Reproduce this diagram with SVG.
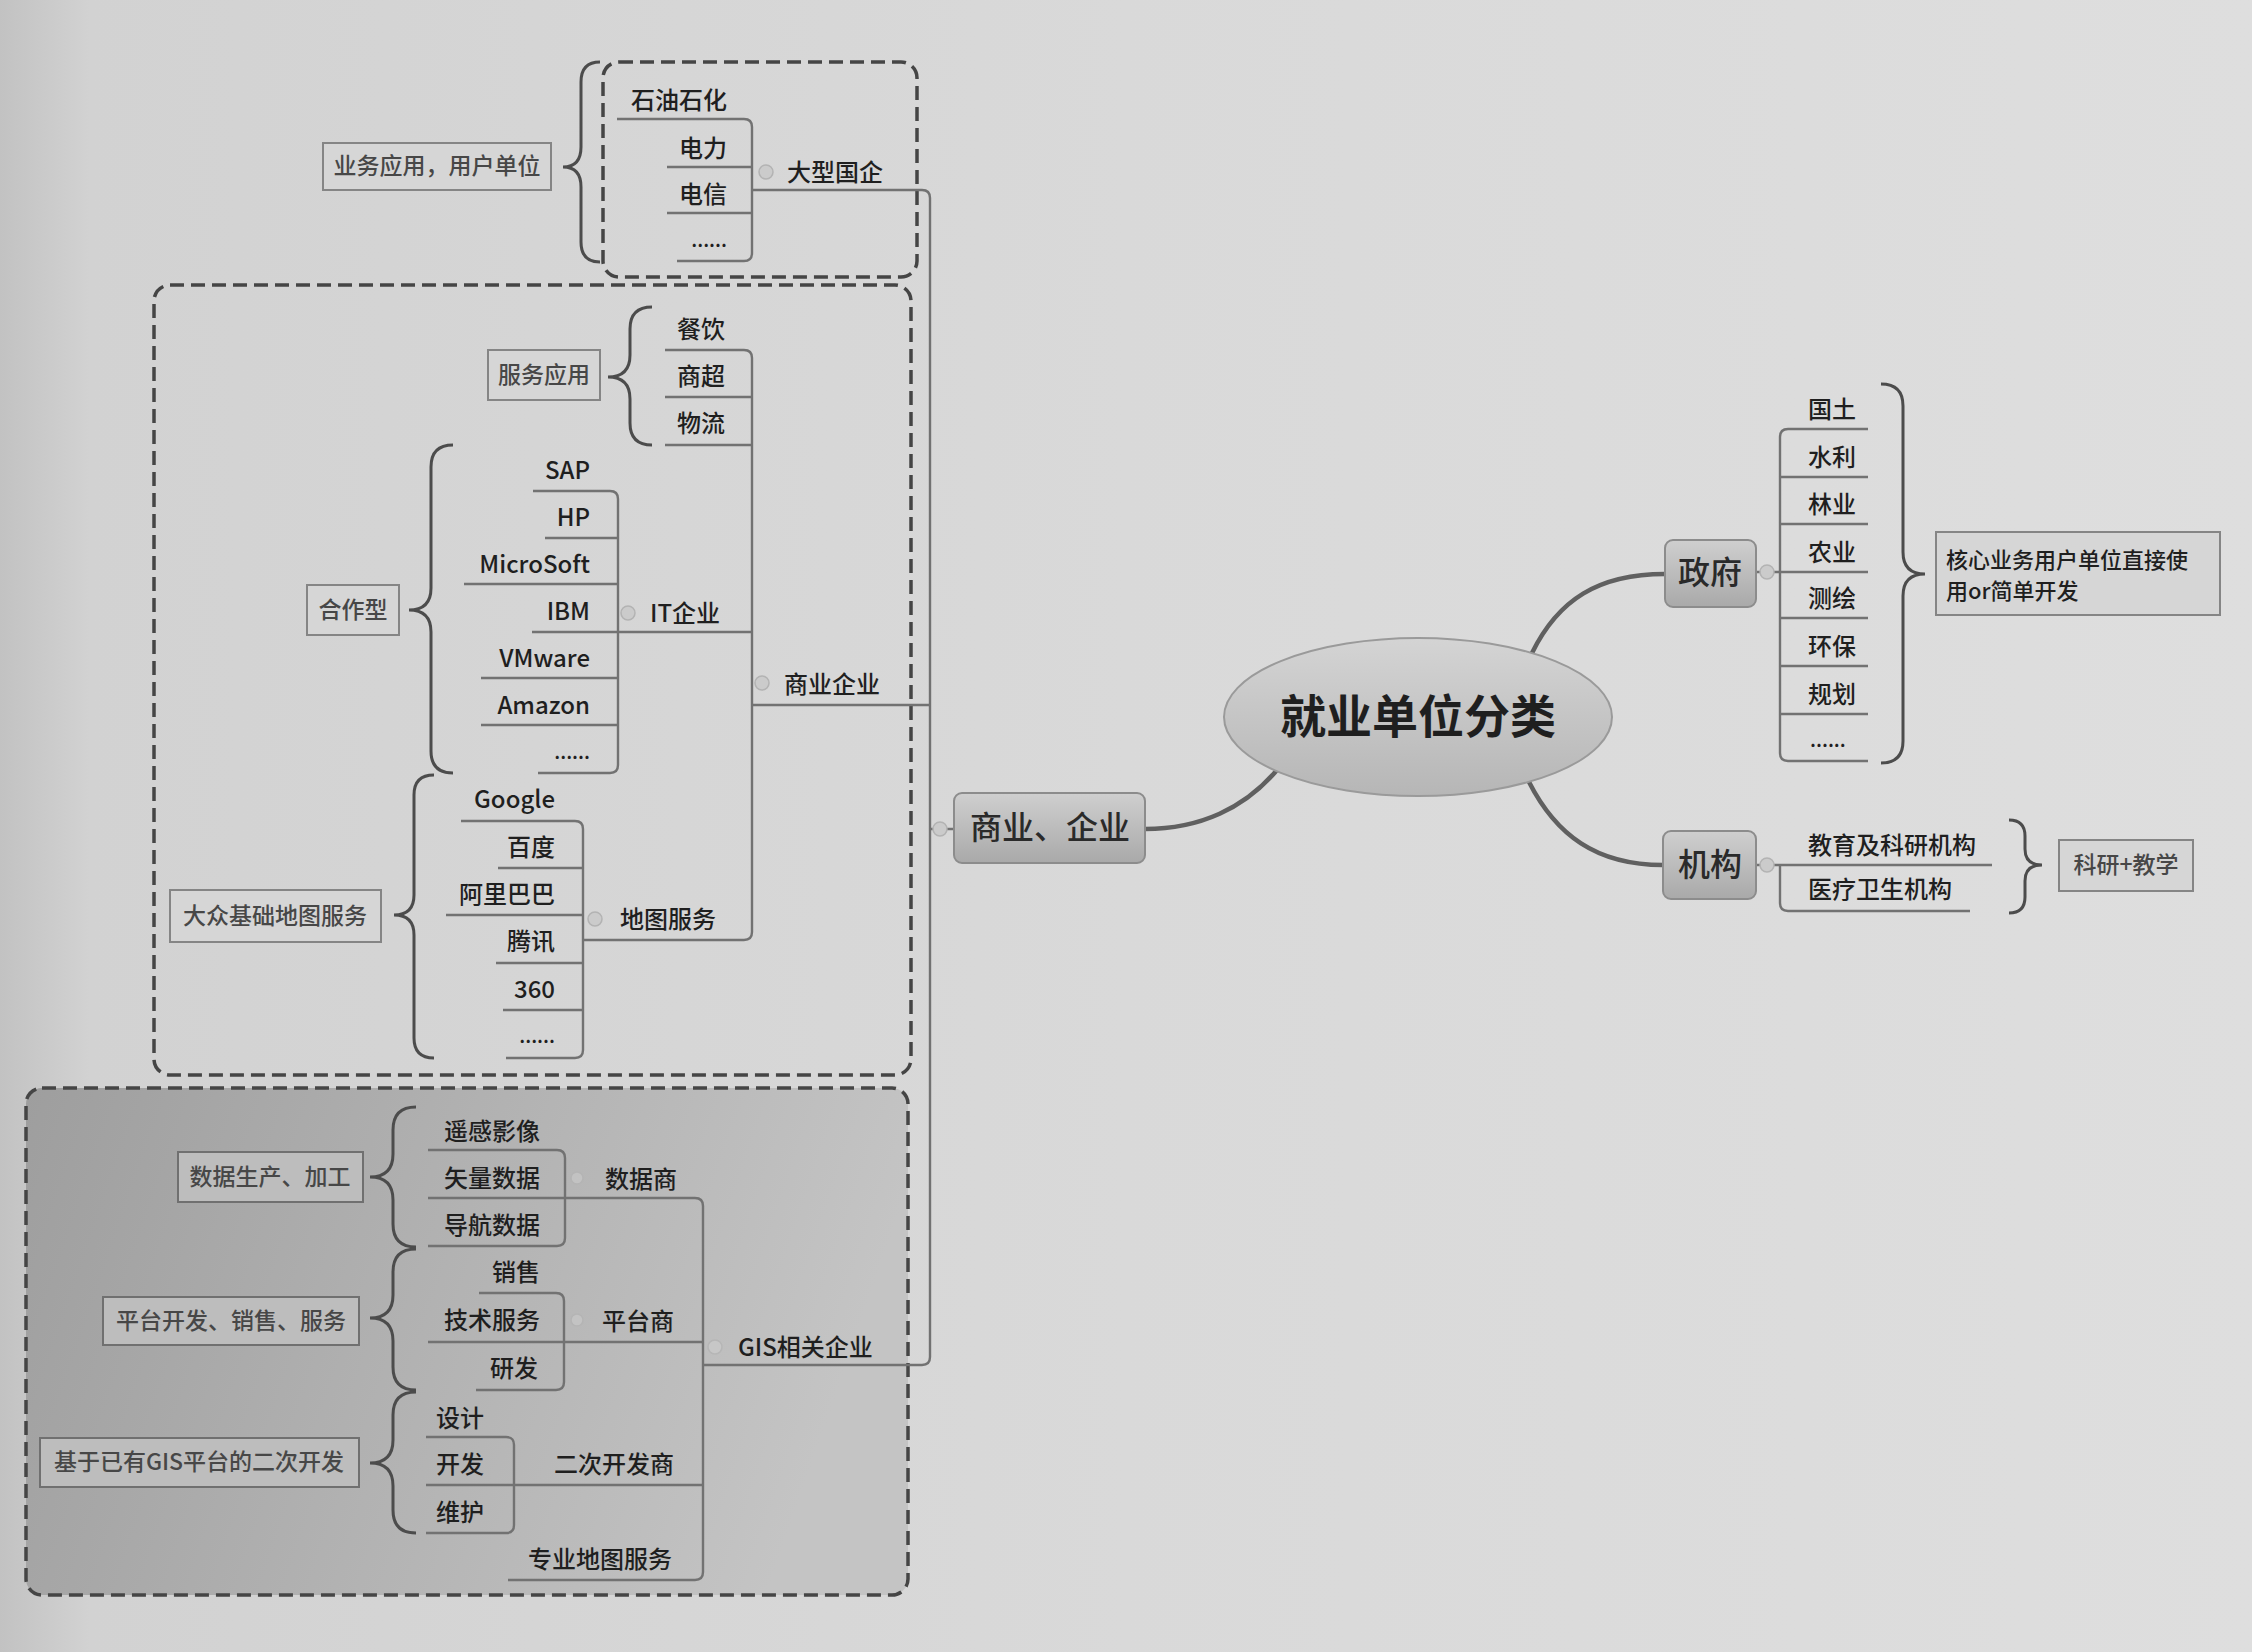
<svg xmlns="http://www.w3.org/2000/svg" width="2252" height="1652" viewBox="0 0 2252 1652">
<defs>
<linearGradient id="bg" x1="0" y1="0" x2="1" y2="0">
<stop offset="0" stop-color="#c2c2c2"/><stop offset="0.04" stop-color="#d2d2d2"/><stop offset="0.5" stop-color="#d9d9d9"/><stop offset="1" stop-color="#dedede"/>
</linearGradient>
<linearGradient id="gisbg" x1="0" y1="0" x2="1" y2="0.2">
<stop offset="0" stop-color="#9e9e9e"/><stop offset="1" stop-color="#c4c4c4"/>
</linearGradient>
<linearGradient id="nodeg" x1="0" y1="0" x2="0" y2="1">
<stop offset="0" stop-color="#cfcfcf"/><stop offset="1" stop-color="#a9a9a9"/>
</linearGradient>
<linearGradient id="ellg" x1="0" y1="0" x2="0" y2="1">
<stop offset="0" stop-color="#d4d4d4"/><stop offset="1" stop-color="#b6b6b6"/>
</linearGradient>
<style>
text{font-family:'Noto Sans CJK SC','Noto Sans',sans-serif;fill:#1f1f1f;font-weight:500}
.it{font-size:24px}
.ie{font-size:24px;text-anchor:end}
.dots{font-size:20px}
.lb{font-size:23px;text-anchor:middle;fill:#474747}
.nd{font-size:32px;text-anchor:middle;fill:#2a2a2a}
.dash{fill:none;stroke:#454545;stroke-width:3.5;stroke-dasharray:14 7}
.ln{fill:none;stroke:#727272;stroke-width:2.4}
.br{fill:none;stroke:#4c4c4c;stroke-width:3}
.box{fill:#d6d6d6;stroke:#858585;stroke-width:2}
.gbox{fill:#bdbdbd;stroke:#707070;stroke-width:2}
.node{fill:url(#nodeg);stroke:#8c8c8c;stroke-width:2}
.main{fill:none;stroke:#606060;stroke-width:4.5;stroke-linecap:round}
.ci{fill:#cbcbcb;stroke:#b3b3b3;stroke-width:1.5}
</style>
</defs>
<rect x="0" y="0" width="2252" height="1652" fill="url(#bg)"/>

<g id="frames">
<rect x="603" y="62" width="314" height="215" rx="16" class="dash"/>
<rect x="154" y="285" width="757" height="790" rx="16" class="dash"/>
<rect x="26" y="1088" width="882" height="507" rx="16" fill="url(#gisbg)"/>
<rect x="26" y="1088" width="882" height="507" rx="16" class="dash"/>
</g>

<g id="connectors">
<path class="main" d="M1532 653 C1558 600 1598 574 1665 574"/>
<path class="main" d="M1529 782 C1556 835 1596 865 1663 865"/>
<path class="main" d="M1277 770 C1245 808 1200 829 1145 829"/>
<path class="ln" d="M752 190 H922 Q930 190 930 198 V1357 Q930 1365 922 1365 H703"/>
<path class="ln" d="M752 705 H930 M930 829 H954"/>
<path class="ln" d="M617 119 H744 Q752 119 752 127 V253 Q752 261 744 261 H677 M667 167 H752 M667 213 H752"/>
<path class="ln" d="M665 350 H744 Q752 350 752 358 V932 Q752 940 744 940 H583 M665 397 H752 M665 445 H752 M532 632 H752"/>
<path class="ln" d="M533 491 H610 Q618 491 618 499 V765 Q618 773 610 773 H538 M545 538 H618 M464 584 H618 M481 678 H618 M481 725 H618"/>
<path class="ln" d="M461 821 H575 Q583 821 583 829 V1050 Q583 1058 575 1058 H506 M498 868 H583 M446 915 H583 M496 963 H583 M503 1010 H583"/>
<path class="ln" d="M428 1150 H557 Q565 1150 565 1158 V1238 Q565 1246 557 1246 H428 M428 1198 H695 Q703 1198 703 1206 V1572 Q703 1580 695 1580 H508"/>
<path class="ln" d="M479 1293 H556 Q564 1293 564 1301 V1382 Q564 1390 556 1390 H476 M428 1342 H703"/>
<path class="ln" d="M426 1437 H506 Q514 1437 514 1445 V1525 Q514 1533 506 1533 H426 M426 1485 H703"/>
<path class="ln" d="M1868 429 H1788 Q1780 429 1780 437 V753 Q1780 761 1788 761 H1868 M1780 477 H1868 M1780 524 H1868 M1756 572 H1868 M1780 618 H1868 M1780 666 H1868 M1780 714 H1868"/>
<path class="ln" d="M1756 865 H1992 M1780 865 V903 Q1780 911 1788 911 H1970"/>
<path class="br" d="M600 62 Q581 62 581 82 L581 147 Q581 167 563 167 Q581 167 581 187 L581 242 Q581 262 600 262"/>
<path class="br" d="M652 307 Q630 307 630 329 L630 355 Q630 377 608 377 Q630 377 630 399 L630 423 Q630 445 652 445"/>
<path class="br" d="M453 445 Q431 445 431 467 L431 588 Q431 610 409 610 Q431 610 431 632 L431 751 Q431 773 453 773"/>
<path class="br" d="M434 775 Q414 775 414 795 L414 895 Q414 915 394 915 Q414 915 414 935 L414 1038 Q414 1058 434 1058"/>
<path class="br" d="M416 1107 Q393 1107 393 1130 L393 1154 Q393 1177 370 1177 Q393 1177 393 1200 L393 1224 Q393 1247 416 1247"/>
<path class="br" d="M416 1249 Q393 1249 393 1272 L393 1295 Q393 1318 370 1318 Q393 1318 393 1341 L393 1367 Q393 1390 416 1390"/>
<path class="br" d="M416 1392 Q393 1392 393 1415 L393 1440 Q393 1463 370 1463 Q393 1463 393 1486 L393 1510 Q393 1533 416 1533"/>
<path class="br" d="M1881 384 Q1903 384 1903 406 L1903 552 Q1903 574 1925 574 Q1903 574 1903 596 L1903 741 Q1903 763 1881 763"/>
<path class="br" d="M2009 820 Q2025 820 2025 836 L2025 849 Q2025 865 2042 865 Q2025 865 2025 881 L2025 897 Q2025 913 2009 913"/>
<circle class="ci" cx="766" cy="172" r="7"/>
<circle class="ci" cx="762" cy="683" r="7"/>
<circle class="ci" cx="628" cy="613" r="7"/>
<circle class="ci" cx="595" cy="919" r="7"/>
<circle class="ci" cx="577" cy="1178" r="6" opacity="0.6"/>
<circle class="ci" cx="577" cy="1320" r="6" opacity="0.6"/>
<circle class="ci" cx="715" cy="1347" r="7" opacity="0.7"/>
<circle class="ci" cx="940" cy="829" r="7"/>
<circle class="ci" cx="1767" cy="572" r="7"/>
<circle class="ci" cx="1767" cy="865" r="7"/>
</g>

<g id="root">
<ellipse cx="1418" cy="717" rx="194" ry="79" fill="url(#ellg)" stroke="#9a9a9a" stroke-width="2"/>
<text x="1418" y="733" font-size="46" font-weight="bold" text-anchor="middle" fill="#222" style="font-weight:bold">就业单位分类</text>
</g>
<g id="n-gov"><rect x="1665" y="540" width="91" height="67" rx="8" class="node"/><text x="1710" y="584" class="nd">政府</text></g>
<g id="n-inst"><rect x="1663" y="831" width="93" height="68" rx="8" class="node"/><text x="1710" y="876" class="nd">机构</text></g>
<g id="n-biz"><rect x="954" y="793" width="191" height="70" rx="8" class="node"/><text x="1050" y="839" class="nd">商业、企业</text></g>

<g id="gov-items">
<text x="1808" y="418" class="it">国土</text>
<text x="1808" y="466" class="it">水利</text>
<text x="1808" y="513" class="it">林业</text>
<text x="1808" y="561" class="it">农业</text>
<text x="1808" y="607" class="it">测绘</text>
<text x="1808" y="655" class="it">环保</text>
<text x="1808" y="703" class="it">规划</text>
<text x="1810" y="747" class="dots">......</text>
</g>
<g id="gov-note"><rect x="1936" y="532" width="284" height="83" class="box"/><text x="1946" y="568" font-size="22" fill="#474747">核心业务用户单位直接使</text><text x="1946" y="599" font-size="22" fill="#474747">用or简单开发</text></g>
<g id="inst-items">
<text x="1808" y="854" class="it">教育及科研机构</text>
<text x="1808" y="898" class="it">医疗卫生机构</text>
</g>
<g id="inst-note"><rect x="2059" y="840" width="134" height="51" class="box"/><text x="2126" y="873" class="lb">科研+教学</text></g>

<g id="soe">
<text x="787" y="181" class="it">大型国企</text>
<text x="727" y="109" class="ie">石油石化</text>
<text x="727" y="157" class="ie">电力</text>
<text x="727" y="203" class="ie">电信</text>
<text x="727" y="247" class="dots" text-anchor="end">......</text>
</g>
<g id="soe-note"><rect x="323" y="143" width="228" height="47" class="box"/><text x="437" y="174" class="lb">业务应用，用户单位</text></g>

<g id="biz">
<text x="784" y="693" class="it">商业企业</text>
<text x="725" y="338" class="ie">餐饮</text>
<text x="725" y="385" class="ie">商超</text>
<text x="725" y="432" class="ie">物流</text>
<text x="650" y="622" class="it">IT企业</text>
<text x="620" y="928" class="it">地图服务</text>
</g>
<g id="svc-note"><rect x="488" y="350" width="112" height="50" class="box"/><text x="544" y="383" class="lb">服务应用</text></g>
<g id="it-items">
<text x="590" y="479" class="ie">SAP</text>
<text x="590" y="526" class="ie">HP</text>
<text x="590" y="573" class="ie">MicroSoft</text>
<text x="590" y="620" class="ie">IBM</text>
<text x="590" y="667" class="ie">VMware</text>
<text x="590" y="714" class="ie">Amazon</text>
<text x="590" y="759" class="dots" text-anchor="end">......</text>
</g>
<g id="coop-note"><rect x="307" y="585" width="92" height="50" class="box"/><text x="353" y="618" class="lb">合作型</text></g>
<g id="map-items">
<text x="555" y="808" class="ie">Google</text>
<text x="555" y="856" class="ie">百度</text>
<text x="555" y="903" class="ie">阿里巴巴</text>
<text x="555" y="950" class="ie">腾讯</text>
<text x="555" y="998" class="ie">360</text>
<text x="555" y="1043" class="dots" text-anchor="end">......</text>
</g>
<g id="map-note"><rect x="170" y="890" width="211" height="52" class="box"/><text x="275" y="924" class="lb">大众基础地图服务</text></g>

<g id="gis">
<text x="738" y="1356" class="it">GIS相关企业</text>
<text x="677" y="1188" class="ie">数据商</text>
<text x="674" y="1330" class="ie">平台商</text>
<text x="674" y="1473" class="ie">二次开发商</text>
<text x="672" y="1568" class="ie">专业地图服务</text>
<text x="540" y="1140" class="ie">遥感影像</text>
<text x="540" y="1187" class="ie">矢量数据</text>
<text x="540" y="1234" class="ie">导航数据</text>
<text x="540" y="1281" class="ie">销售</text>
<text x="540" y="1329" class="ie">技术服务</text>
<text x="538" y="1377" class="ie">研发</text>
<text x="436" y="1427" class="it">设计</text>
<text x="436" y="1473" class="it">开发</text>
<text x="436" y="1521" class="it">维护</text>
</g>
<g id="gis-notes">
<rect x="178" y="1152" width="185" height="50" class="gbox"/><text x="270" y="1185" class="lb" fill="#3c3c3c">数据生产、加工</text>
<rect x="103" y="1297" width="256" height="48" class="gbox"/><text x="231" y="1329" class="lb" fill="#3c3c3c">平台开发、销售、服务</text>
<rect x="40" y="1438" width="319" height="49" class="gbox"/><text x="199" y="1470" class="lb" fill="#3c3c3c">基于已有GIS平台的二次开发</text>
</g>
</svg>
